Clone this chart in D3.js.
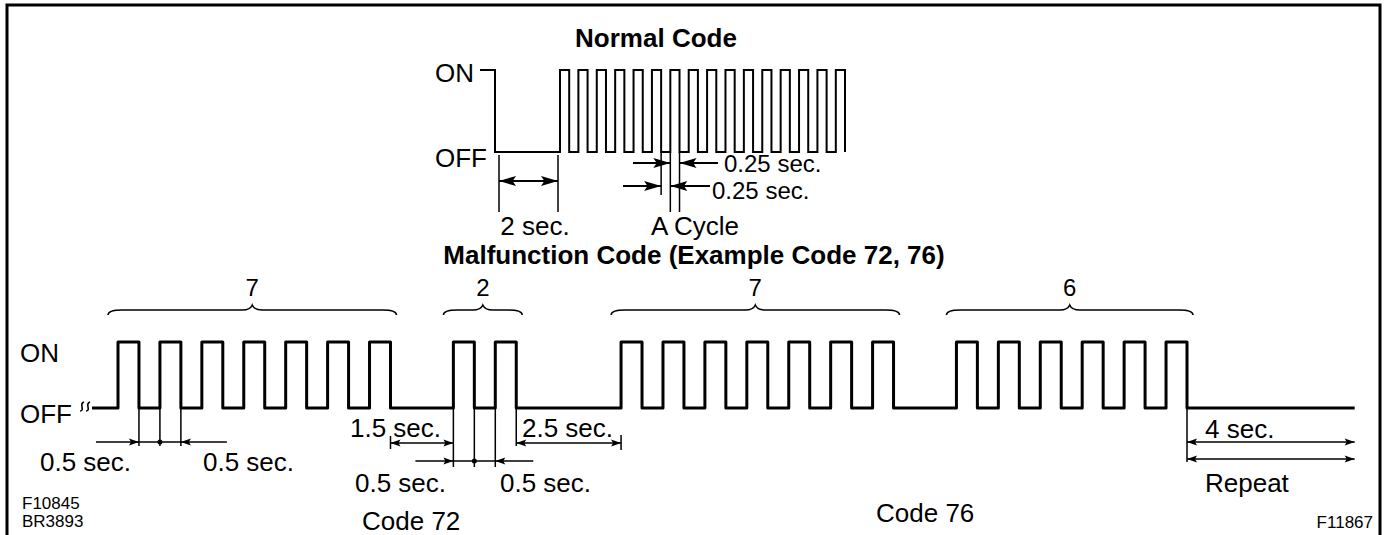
<!DOCTYPE html>
<html>
<head>
<meta charset="utf-8">
<script src="https://cdn.jsdelivr.net/npm/d3@7"></script>
<style>
body { margin: 0; background: #fff; }
text { font-family: "Liberation Sans", Arial, sans-serif; fill: #000; }
</style>
</head>
<body>
<div id="container"></div>
<script>
// Chart size
const width = 1389;
const height = 535;

// Normal code timing (seconds)
const normalStub = [-0.4, 0];
const normalOffSec = 2;
const normalPulseCount = 16;
const normalOnSec = 0.25;
const normalGapSec = 0.25;

// Malfunction code timing (seconds)
const digits = [7, 2, 7, 6];
const gapAfter = [1.5, 2.5, 1.5, 4];
const pulseOnSec = 0.5;
const pulseOffSec = 0.5;
const leadIn = -0.62;
const codeNames = ["Code 72", "Code 76"];
const figureIds = ["F10845", "BR3893", "F11867"];

// Scales
const xN = d3.scaleLinear().domain([normalStub[0], 0, normalOffSec, 9.75]).range([480, 495, 560, 845]);
const yN = d3.scaleLinear().domain([0, 1]).range([152, 70]);
const xM = d3.scaleLinear().domain([0, 25.5]).range([118, 1187]);
const yM = d3.scaleLinear().domain([0, 1]).range([408, 342]);

const svg = d3.select("#container").append("svg")
	.attr("width", width)
	.attr("height", height)
	.style("display", "block");

svg.append("rect").attr("width", width).attr("height", height).attr("fill", "#fff");

// Frame (open at the bottom)
svg.append("path")
	.attr("d", `M7,${height} V5 H1380 V${height}`)
	.attr("fill", "none").attr("stroke", "#000").attr("stroke-width", 3);

const line = d3.line().x(d => d[0]).y(d => d[1]);

const seg = function(x1, y1, x2, y2, w) {
	svg.append("line")
		.attr("x1", x1).attr("y1", y1).attr("x2", x2).attr("y2", y2)
		.attr("stroke", "#000").attr("stroke-width", w || 1.5);
}

// arrow head with its tip at (x, y); dir = 1 points right, -1 points left
const arrow = function(x, y, dir, len, hw) {
	svg.append("path")
		.attr("d", `M${x},${y} L${x - dir*len},${y - hw} L${x - dir*len*0.8},${y} L${x - dir*len},${y + hw} Z`)
		.attr("fill", "#000");
}

const label = function(txt, x, y, size, anchor, weight) {
	svg.append("text")
		.attr("x", x).attr("y", y)
		.attr("font-size", size)
		.attr("text-anchor", anchor || "start")
		.attr("font-weight", weight || "normal")
		.text(txt);
}

// ---------- Normal code ----------
var nWave = [[normalStub[0], 1], [0, 1], [0, 0], [normalOffSec, 0]];
for (let k = 0; k < normalPulseCount; k++) {
	let t = normalOffSec + k*(normalOnSec + normalGapSec);
	nWave.push([t, 0], [t, 1], [t + normalOnSec, 1], [t + normalOnSec, 0]);
}
svg.append("path")
	.attr("d", line(nWave.map(d => [xN(d[0]), yN(d[1])])))
	.attr("fill", "none").attr("stroke", "#000").attr("stroke-width", 2);

label("Normal Code", 656, 47, 26, "middle", "bold");
label("ON", 435, 82, 26);
label("OFF", 435, 167, 26);

// 2 sec.
const n0 = xN(0) + 4, n2 = xN(normalOffSec) - 2;
seg(n0, yN(0) + 3, n0, 212);
seg(n2, yN(0) + 3, n2, 212);
seg(n0, 181, n2, 181, 2);
arrow(n0, 181, -1, 17, 5);
arrow(n2, 181, 1, 17, 5);
label("2 sec.", 535, 235, 26, "middle");

// A cycle
const cA = xN(4.75), cB = xN(5), cC = xN(5.25);
seg(cA, yN(0), cA, 195);
seg(cB, yN(0), cB, 212);
seg(cC, yN(0), cC, 212);
seg(633, 163, cB, 163, 2);
arrow(cB, 163, 1, 17, 5);
seg(cC, 163, 718, 163, 2);
arrow(cC, 163, -1, 17, 5);
label("0.25 sec.", 724, 172, 24);
seg(623, 186, cA, 186, 2);
arrow(cA, 186, 1, 17, 5);
seg(cB, 186, 710, 186, 2);
arrow(cB, 186, -1, 17, 5);
label("0.25 sec.", 712, 199, 24);
label("A Cycle", 695, 235, 26, "middle");

// ---------- Malfunction code ----------
label("Malfunction Code (Example Code 72, 76)", 694, 264, 26, "middle", "bold");

var mWave = [[leadIn, 0]];
var groups = [];
var t = 0;
digits.forEach((n, i) => {
	let start = t;
	for (let k = 0; k < n; k++) {
		mWave.push([t, 0], [t, 1], [t + pulseOnSec, 1], [t + pulseOnSec, 0]);
		t += pulseOnSec;
		if (k < n - 1) t += pulseOffSec;
	}
	groups.push({n: n, start: start, end: t});
	t += gapAfter[i];
});
mWave.push([t, 0]);

svg.append("path")
	.attr("d", line(mWave.map(d => [xM(d[0]), yM(d[1])])))
	.attr("fill", "none").attr("stroke", "#000").attr("stroke-width", 3)
	.attr("stroke-linejoin", "round");

// break mark at start of the line
[0, 6].forEach(dx => {
	let bx = xM(leadIn) - 11 + dx;
	svg.append("path")
		.attr("d", `M${bx - 1},${yM(0) + 3} q3,0 2,-4 q-1,-4 2,-5`)
		.attr("fill", "none").attr("stroke", "#000").attr("stroke-width", 1.6);
});

label("ON", 20, 362, 26);
label("OFF", 20, 423, 26);

// braces with digit counts
groups.forEach(g => {
	let x0 = xM(g.start) - 10, x1 = xM(g.end) + 6, xc = (x0 + x1)/2;
	let yb = 315, yt = 310, yp = 305;
	svg.append("path")
		.attr("d", `M${x0},${yb} Q${x0},${yt} ${x0 + 14},${yt} L${xc - 10},${yt} Q${xc - 2},${yt} ${xc},${yp} Q${xc + 2},${yt} ${xc + 10},${yt} L${x1 - 14},${yt} Q${x1},${yt} ${x1},${yb}`)
		.attr("fill", "none").attr("stroke", "#000").attr("stroke-width", 1.5);
	label(String(g.n), xc, 296, 24, "middle");
});

// 0.5 sec. pair under the first digit
const a1 = xM(0.5), a2 = xM(1), a3 = xM(1.5);
[a1, a2, a3].forEach(x => seg(x, yM(0), x, 446));
seg(a1 - 43, 442, a3 + 46, 442);
arrow(a1, 442, 1, 10, 3.5);
arrow(a3, 442, -1, 10, 3.5);
svg.append("circle").attr("cx", a2).attr("cy", 442).attr("r", 2.5).attr("fill", "#000");
label("0.5 sec.", 40, 471, 26);
label("0.5 sec.", 203, 471, 26);

// 1.5 sec. gap
const g1a = xM(groups[0].end), g1b = xM(groups[1].start);
seg(g1a, 436, g1a, 449);
seg(g1a, 443, g1b, 443);
arrow(g1a, 443, -1, 10, 3.5);
arrow(g1b, 443, 1, 10, 3.5);
label("1.5 sec.", 350, 437, 26);

// 0.5 sec. pair under the second digit
const b1 = xM(groups[1].start), b2 = xM(groups[1].start + 0.5), b3 = xM(groups[1].start + 1);
[b1, b2, b3].forEach(x => seg(x, yM(0), x, 467));
seg(b1 - 38, 461, b3 + 38, 461);
arrow(b1, 461, 1, 10, 3.5);
arrow(b3, 461, -1, 10, 3.5);
svg.append("circle").attr("cx", b2).attr("cy", 461).attr("r", 2.5).attr("fill", "#000");
label("0.5 sec.", 355, 492, 26);
label("0.5 sec.", 500, 492, 26);

// 2.5 sec. gap
const g2a = xM(groups[1].end), g2b = xM(groups[2].start);
seg(g2a, yM(0), g2a, 446);
seg(g2b, 435, g2b, 450);
seg(g2a, 443, g2b, 443);
arrow(g2a, 443, -1, 10, 3.5);
arrow(g2b, 443, 1, 10, 3.5);
label("2.5 sec.", 522, 437, 26);

// 4 sec. and repeat
const r1 = xM(groups[3].end), r2 = xM(groups[3].end + gapAfter[3]);
seg(r1, yM(0), r1, 462);
[442, 459].forEach(y => {
	seg(r1, y, r2, y);
	arrow(r1, y, -1, 10, 3.5);
	arrow(r2, y, 1, 10, 3.5);
});
label("4 sec.", 1205, 438, 26);
label("Repeat", 1205, 492, 26);

// code names and figure ids
label(codeNames[0], 362, 530, 26);
label(codeNames[1], 876, 522, 26);
label(figureIds[0], 22, 509, 17);
label(figureIds[1], 22, 527, 17);
label(figureIds[2], 1373, 528, 17, "end");
</script>
</body>
</html>
